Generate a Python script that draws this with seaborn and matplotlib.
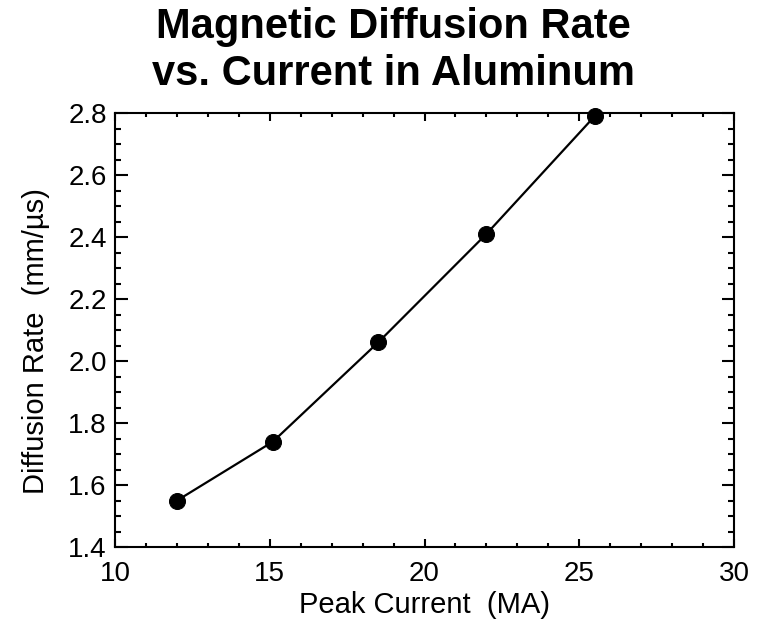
import matplotlib
matplotlib.use("Agg")
import matplotlib.pyplot as plt
import seaborn as sns
import pandas as pd
from matplotlib.ticker import MultipleLocator, FormatStrFormatter

peak_current = [12.0, 15.1, 18.5, 22.0, 25.5]
diffusion_rate = [1.55, 1.74, 2.06, 2.41, 2.79]

sns.set_style("ticks")
plt.rcParams['font.family'] = ['Liberation Sans', 'DejaVu Sans']

df = pd.DataFrame({"x": peak_current, "y": diffusion_rate})

fig = plt.figure(figsize=(7.67, 6.21), dpi=100)
ax = fig.add_axes([0.150, 0.119, 0.807, 0.699])
sns.lineplot(data=df, x="x", y="y", ax=ax, color="black", linewidth=1.6,
             marker="o", markersize=11.5, markeredgecolor="black",
             markerfacecolor="black", clip_on=False)

ax.set_xlim(10, 30)
ax.set_ylim(1.4, 2.8)
ax.xaxis.set_major_locator(MultipleLocator(5))
ax.xaxis.set_minor_locator(MultipleLocator(1))
ax.yaxis.set_major_locator(MultipleLocator(0.2))
ax.yaxis.set_minor_locator(MultipleLocator(0.05))
ax.yaxis.set_major_formatter(FormatStrFormatter('%.1f'))
ax.tick_params(which='both', direction='in', top=True, right=True, width=1.5,
               labelsize=20, colors='black')
ax.tick_params(axis='x', which='major', length=6, pad=10)
ax.tick_params(axis='x', which='minor', length=3)
ax.tick_params(axis='y', which='major', length=9, pad=6)
ax.tick_params(axis='y', which='minor', length=4.5)
for s in ax.spines.values():
    s.set_linewidth(1.5)
    s.set_color('black')

ax.set_xlabel("Peak Current  (MA)", fontsize=21, labelpad=3, color='black')
ax.set_ylabel("Diffusion Rate  (mm/\u00b5s)", fontsize=21, color='black')
ax.yaxis.set_label_coords(-0.105, 0.475)
fig.text(0.513, 0.988, "Magnetic Diffusion Rate\nvs. Current in Aluminum",
         fontsize=30, fontweight='bold', ha='center', va='top',
         linespacing=1.2, color='black')

fig.savefig("out.png", dpi=100, facecolor='white')
